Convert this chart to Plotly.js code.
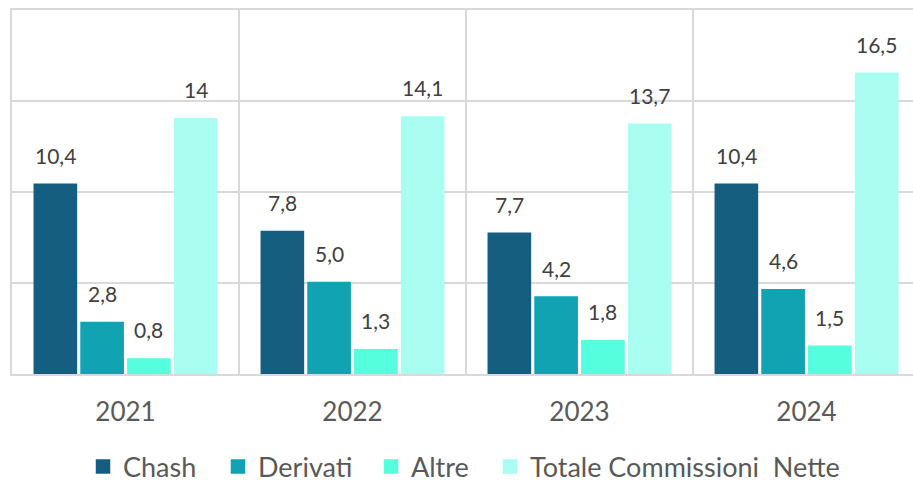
<!DOCTYPE html>
<html>
<head>
<meta charset="utf-8">
<script src="https://cdn.plot.ly/plotly-3.0.1.min.js"></script>
<style>
html,body{margin:0;padding:0;overflow:hidden;background:#fff;}
#chart{width:921px;height:482px;}
</style>
</head>
<body>
<div id="chart"></div>
<script>
var years = ["2021", "2022", "2023", "2024"];
var seriesNames = ["Chash", "Derivati", "Altre", "Totale Commissioni  Nette"];
var chash = [10.4, 7.8, 7.7, 10.4];
var derivati = [2.8, 5.0, 4.2, 4.6];
var altre = [0.8, 1.3, 1.8, 1.5];
var totale = [14, 14.1, 13.7, 16.5];
var chashLabels = ["10,4", "7,8", "7,7", "10,4"];
var derivatiLabels = ["2,8", "5,0", "4,2", "4,6"];
var altreLabels = ["0,8", "1,3", "1,8", "1,5"];
var totaleLabels = ["14", "14,1", "13,7", "16,5"];
var colors = ["#165E80", "#11A3B2", "#55FEDC", "#A9FDF1"];

var values = [chash, derivati, altre, totale];
var labels = [chashLabels, derivatiLabels, altreLabels, totaleLabels];

var W = 921;
var bargap = 0.176;
var bargroupgap = 0.12;
var font = "Lato, 'Noto Sans', sans-serif";
var legendLeftPx = [83, 218, 371, 490];
var legendIds = ["legend", "legend2", "legend3", "legend4"];

var traces = values.map(function (v, i) {
  return {
    type: "bar",
    name: seriesNames[i],
    legend: legendIds[i],
    x: years,
    y: v,
    marker: { color: colors[i], line: { width: 2.5, color: colors[i] } },
    hoverinfo: "none"
  };
});

var slot = (1 - bargap) / values.length;
var annotations = [];
values.forEach(function (v, i) {
  v.forEach(function (val, j) {
    annotations.push({
      x: j + (i - (values.length - 1) / 2) * slot,
      y: val,
      xref: "x",
      yref: "y",
      text: labels[i][j],
      showarrow: false,
      yanchor: "bottom",
      xanchor: "center",
      yshift: 15,
      font: { family: font, size: 21, color: "#404040" }
    });
  });
});

var layout = {
  width: W,
  height: 482,
  margin: { l: 12, r: 1, t: 10, b: 108 },
  paper_bgcolor: "#fff",
  plot_bgcolor: "#fff",
  barmode: "group",
  bargap: bargap,
  bargroupgap: bargroupgap,
  showlegend: true,
  xaxis: {
    type: "category",
    tickson: "boundaries",
    showgrid: true,
    gridcolor: "#D9D9D9",
    gridwidth: 2,
    showline: true,
    mirror: true,
    linecolor: "#D9D9D9",
    linewidth: 2,
    ticks: "",
    ticklabelstandoff: 14,
    tickfont: { family: font, size: 26, color: "#595959" },
    fixedrange: true
  },
  yaxis: {
    range: [0, 20],
    dtick: 5,
    showgrid: true,
    gridcolor: "#D9D9D9",
    gridwidth: 2,
    zeroline: false,
    showline: true,
    mirror: true,
    linecolor: "#D9D9D9",
    linewidth: 2,
    showticklabels: false,
    ticks: "",
    fixedrange: true
  },
  annotations: annotations
};

legendIds.forEach(function (id, i) {
  layout[id] = {
    orientation: "h",
    xref: "container",
    yref: "container",
    x: legendLeftPx[i] / W,
    xanchor: "left",
    y: 0.031,
    yanchor: "middle",
    bgcolor: "rgba(0,0,0,0)",
    font: { family: font, size: 27, color: "#595959" }
  };
});

Plotly.newPlot("chart", traces, layout, { displayModeBar: false, staticPlot: true });
</script>
</body>
</html>
